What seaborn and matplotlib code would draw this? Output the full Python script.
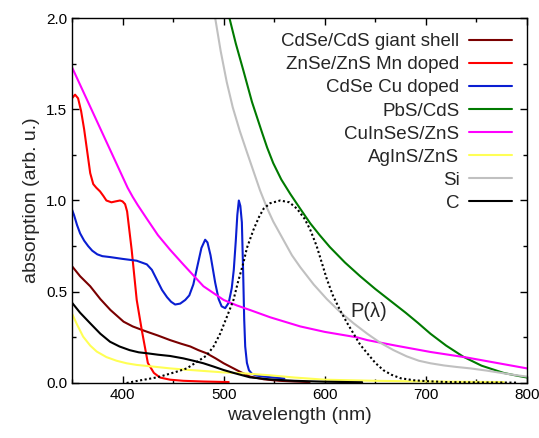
import numpy as np
import pandas as pd
import matplotlib
matplotlib.use("Agg")
import matplotlib.pyplot as plt
from matplotlib.ticker import MultipleLocator
import seaborn as sns

# ---------------- data ----------------
cdse_cds_x = [350, 358, 368, 378, 388, 401, 410, 421, 435, 447, 458, 467, 475, 483,
              492, 500, 508, 516, 526, 540, 555, 570, 585]
cdse_cds_y = [0.64, 0.585, 0.53, 0.46, 0.40, 0.336, 0.31, 0.287, 0.26, 0.235, 0.215,
              0.20, 0.18, 0.163, 0.135, 0.108, 0.085, 0.062, 0.035, 0.02, 0.012, 0.008, 0.005]

znse_x = [350, 353, 356, 359, 362, 365, 368, 371, 374, 377.7, 381, 384, 389, 393, 397.5,
          400, 402.5, 404.5, 406, 409, 414, 419, 425, 431, 437, 447, 460, 480, 505]
znse_y = [1.56, 1.58, 1.56, 1.49, 1.39, 1.27, 1.15, 1.09, 1.07, 1.05, 1.025, 1.0, 0.99,
          0.995, 1.0, 0.995, 0.98, 0.94, 0.87, 0.73, 0.455, 0.29, 0.11, 0.055, 0.03,
          0.018, 0.012, 0.008, 0.005]

cdse_cu_x = [350, 352, 355, 358, 362, 366, 370, 375, 380, 387.6, 400, 414, 424, 429, 434,
             439, 444, 448, 452, 457, 462, 466, 470, 474, 478, 481.7, 484, 487, 491.6, 495,
             498, 501.5, 505, 508, 510, 512, 513.5, 515, 516.5, 518, 519.3, 520.3, 521.3,
             523, 525, 528, 533, 540, 550, 560]
cdse_cu_y = [0.95, 0.92, 0.865, 0.82, 0.78, 0.75, 0.725, 0.705, 0.695, 0.69, 0.68, 0.67,
             0.65, 0.62, 0.565, 0.51, 0.47, 0.445, 0.43, 0.435, 0.455, 0.48, 0.54, 0.64,
             0.74, 0.785, 0.77, 0.70, 0.55, 0.46, 0.42, 0.41, 0.44, 0.52, 0.62, 0.78, 0.92,
             1.0, 0.97, 0.88, 0.60, 0.35, 0.20, 0.11, 0.07, 0.05, 0.04, 0.035, 0.03, 0.025]

pbs_x = [500, 505.7, 512, 519.6, 528, 537.8, 543, 549, 557, 566, 575.7, 585.6, 595, 605,
         620, 635, 650, 665, 680, 692, 704.5, 720, 737, 755, 777, 790, 800]
pbs_y = [2.08, 2.0, 1.86, 1.71, 1.54, 1.375, 1.29, 1.205, 1.115, 1.035, 0.955, 0.875,
         0.81, 0.745, 0.66, 0.585, 0.515, 0.45, 0.385, 0.33, 0.27, 0.205, 0.144, 0.095,
         0.055, 0.04, 0.03]

cuinses_x = [350, 360, 370, 380, 390, 395, 400, 405, 410, 415, 424, 435, 447, 460, 480,
             500, 513, 526, 546, 575.7, 600, 632, 642, 670, 704.5, 740, 770, 800]
cuinses_y = [1.73, 1.61, 1.49, 1.37, 1.25, 1.19, 1.13, 1.07, 1.02, 0.975, 0.90, 0.81,
             0.73, 0.65, 0.53, 0.455, 0.425, 0.40, 0.36, 0.31, 0.28, 0.25, 0.235, 0.205,
             0.17, 0.14, 0.11, 0.08]

agins_x = [350, 355, 361, 368, 374.5, 384, 394, 404, 414, 430, 447, 465, 480, 500, 519.6,
           546, 570, 600, 650, 700, 750, 777]
agins_y = [0.38, 0.32, 0.254, 0.205, 0.172, 0.142, 0.122, 0.108, 0.099, 0.09, 0.08, 0.072,
           0.066, 0.058, 0.053, 0.042, 0.03, 0.018, 0.012, 0.008, 0.006, 0.005]

si_x = [485, 491.6, 497, 503, 509, 516, 523, 529.5, 536, 542.8, 549, 556, 567.5, 575.7,
        589, 602, 615, 628.5, 642, 655, 668, 681, 693, 704.5, 718, 730, 744, 760, 777, 790, 800]
si_y = [2.1, 2.0, 1.82, 1.65, 1.51, 1.38, 1.265, 1.16, 1.055, 0.96, 0.885, 0.815, 0.70,
        0.635, 0.54, 0.46, 0.39, 0.327, 0.27, 0.22, 0.18, 0.146, 0.122, 0.108, 0.096,
        0.088, 0.08, 0.068, 0.053, 0.042, 0.035]

c_x = [350, 358, 368, 378, 387.6, 397, 407, 416, 424, 435, 447, 460, 470, 480, 490, 500,
       510, 526, 545, 570, 600, 637]
c_y = [0.44, 0.385, 0.327, 0.27, 0.226, 0.20, 0.18, 0.168, 0.163, 0.155, 0.148, 0.135,
       0.122, 0.108, 0.09, 0.071, 0.055, 0.031, 0.02, 0.012, 0.007, 0.004]

p_x = [404, 415, 430.5, 437, 453.6, 463.5, 472, 483, 490, 496.5, 503, 509.7, 514, 519.6,
       523, 529.5, 535, 539.5, 546, 556, 565, 572.5, 580, 585.6, 592, 597, 602, 608, 615,
       622, 628.5, 635, 642, 650, 658, 666, 675, 688, 701, 720, 750, 790]
p_y = [0.0, 0.012, 0.027, 0.035, 0.062, 0.08, 0.11, 0.15, 0.2, 0.27, 0.36, 0.455, 0.55,
       0.66, 0.74, 0.84, 0.91, 0.955, 0.985, 1.0, 0.99, 0.955, 0.9, 0.84, 0.75, 0.66, 0.57,
       0.48, 0.40, 0.33, 0.27, 0.21, 0.163, 0.11, 0.07, 0.045, 0.026, 0.015, 0.01, 0.005,
       0.003, 0.002]

series_labels = ["CdSe/CdS giant shell", "ZnSe/ZnS Mn doped", "CdSe Cu doped", "PbS/CdS",
                 "CuInSeS/ZnS", "AgInS/ZnS", "Si", "C"]
series_x = [cdse_cds_x, znse_x, cdse_cu_x, pbs_x, cuinses_x, agins_x, si_x, c_x]
series_y = [cdse_cds_y, znse_y, cdse_cu_y, pbs_y, cuinses_y, agins_y, si_y, c_y]
series_colors = ["#7a0000", "#ff0000", "#0a1ed2", "#007a00", "#ff00ff", "#ffff55",
                 "#c0c0c0", "#000000"]

x_ticks = [400, 500, 600, 700, 800]
y_ticks = [0.0, 0.5, 1.0, 1.5, 2.0]

# ---------------- figure ----------------
sns.set_style("ticks")
plt.rcParams["font.family"] = ["Liberation Sans", "DejaVu Sans"]

fig = plt.figure(figsize=(5.39, 4.38), dpi=100)
ax = fig.add_axes([0.1336, 0.1256, 0.9777 - 0.1336, 0.9589 - 0.1256])

frames = []
for lab, xs, ys in zip(series_labels, series_x, series_y):
    frames.append(pd.DataFrame({"wl": xs, "abs": ys, "sample": lab}))
df = pd.concat(frames, ignore_index=True)

sns.lineplot(data=df, x="wl", y="abs", hue="sample", hue_order=series_labels,
             palette=dict(zip(series_labels, series_colors)), lw=1.5,
             estimator=None, sort=False, ax=ax)

sns.lineplot(x=p_x, y=p_y, color="black", lw=1.5, ls=(0, (1, 1.2)), legend=False,
             estimator=None, sort=False, ax=ax)

ax.text(625, 0.39, "P(λ)", fontsize=14.5, ha="left", va="center")

ax.set_xlim(350, 800)
ax.set_ylim(0, 2.0)
ax.set_xticks(x_ticks)
ax.set_yticks(y_ticks)
ax.set_yticklabels([f"{v:.1f}" for v in y_ticks])
ax.xaxis.set_minor_locator(MultipleLocator(50))
ax.yaxis.set_minor_locator(MultipleLocator(0.25))
ax.tick_params(which="both", direction="in", top=True, right=True, colors="black",
               labelsize=11, width=1)
ax.tick_params(which="major", length=5)
ax.tick_params(which="minor", length=3)
for s in ax.spines.values():
    s.set_visible(True)
    s.set_color("black")
    s.set_linewidth(1)

ax.set_xlabel("wavelength (nm)", fontsize=14)
ax.set_ylabel("absorption (arb. u.)", fontsize=14)

leg = ax.legend(loc="upper right", frameon=False, markerfirst=False, fontsize=13.5,
                handlelength=2.3, handletextpad=0.5, labelspacing=0.32,
                borderaxespad=0.45, borderpad=0.35)
for line in leg.get_lines():
    line.set_linewidth(1.5)

fig.savefig("out.png", dpi=100)
